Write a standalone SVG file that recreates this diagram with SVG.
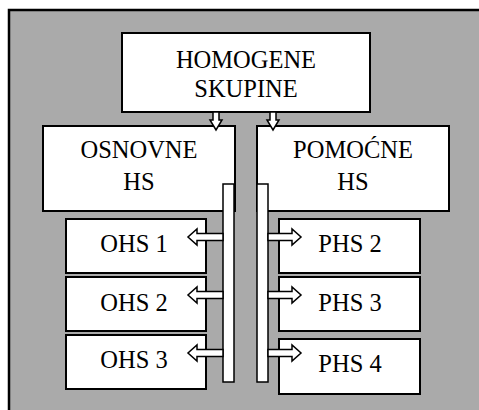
<svg xmlns="http://www.w3.org/2000/svg" width="479" height="410" viewBox="0 0 479 410">
<style>
.box{fill:#fff;stroke:#000;stroke-width:2}
.bar{fill:#fff;stroke:#000;stroke-width:1.5}
.arr{fill:#fff;stroke:#000;stroke-width:1.5;stroke-linejoin:miter}
text{font-family:"Liberation Serif","Times New Roman",serif;font-size:24.5px;fill:#000;text-anchor:middle}
</style>
<rect x="0" y="0" width="479" height="410" fill="#fff"/>
<rect x="9" y="10" width="470" height="400" fill="#aaaaaa"/>
<path d="M9,410 V10 H479" fill="none" stroke="#000" stroke-width="2.5"/>
<g id="n-homogene"><rect class="box" x="122" y="33" width="248" height="79"/><text x="246" y="68">HOMOGENE</text><text x="246" y="97">SKUPINE</text></g>
<g id="n-osnovne"><rect class="box" x="43" y="126" width="192" height="85"/><text x="139" y="158">OSNOVNE</text><text x="139" y="190">HS</text></g>
<g id="n-pomocne"><rect class="box" x="257" y="126" width="192" height="85"/><text x="353" y="158">POMOĆNE</text><text x="353" y="190">HS</text></g>
<g id="n-ohs1"><rect class="box" x="66" y="219" width="140" height="54"/><text x="134" y="252">OHS 1</text></g>
<g id="n-ohs2"><rect class="box" x="66" y="277" width="140" height="54"/><text x="134" y="311">OHS 2</text></g>
<g id="n-ohs3"><rect class="box" x="66" y="335" width="140" height="54"/><text x="134" y="368">OHS 3</text></g>
<g id="n-phs2"><rect class="box" x="279" y="219" width="141" height="54"/><text x="350" y="252">PHS 2</text></g>
<g id="n-phs3"><rect class="box" x="279" y="277" width="141" height="54"/><text x="350" y="311">PHS 3</text></g>
<g id="n-phs4"><rect class="box" x="279" y="339" width="141" height="55"/><text x="350" y="372">PHS 4</text></g>
<g id="connectors">
<rect class="bar" x="223" y="184" width="11" height="198"/>
<rect class="bar" x="257" y="184" width="11" height="198"/>
<polygon class="arr" points="213,112 219,112 219,120 222,120 216,130 210,120 213,120"/>
<polygon class="arr" points="270,112 276,112 276,120 279,120 273,130 267,120 270,120"/>
<polygon class="arr" points="223,233.5 197,233.5 197,229 188,237 197,245 197,240.5 223,240.5"/>
<polygon class="arr" points="223,291.5 197,291.5 197,287 188,295 197,303 197,298.5 223,298.5"/>
<polygon class="arr" points="223,349.5 197,349.5 197,345 188,353 197,361 197,356.5 223,356.5"/>
<polygon class="arr" points="268,233.5 292,233.5 292,229 301,237 292,245 292,240.5 268,240.5"/>
<polygon class="arr" points="268,291.5 292,291.5 292,287 301,295 292,303 292,298.5 268,298.5"/>
<polygon class="arr" points="268,349.5 292,349.5 292,345 301,353 292,361 292,356.5 268,356.5"/>
</g>
</svg>
